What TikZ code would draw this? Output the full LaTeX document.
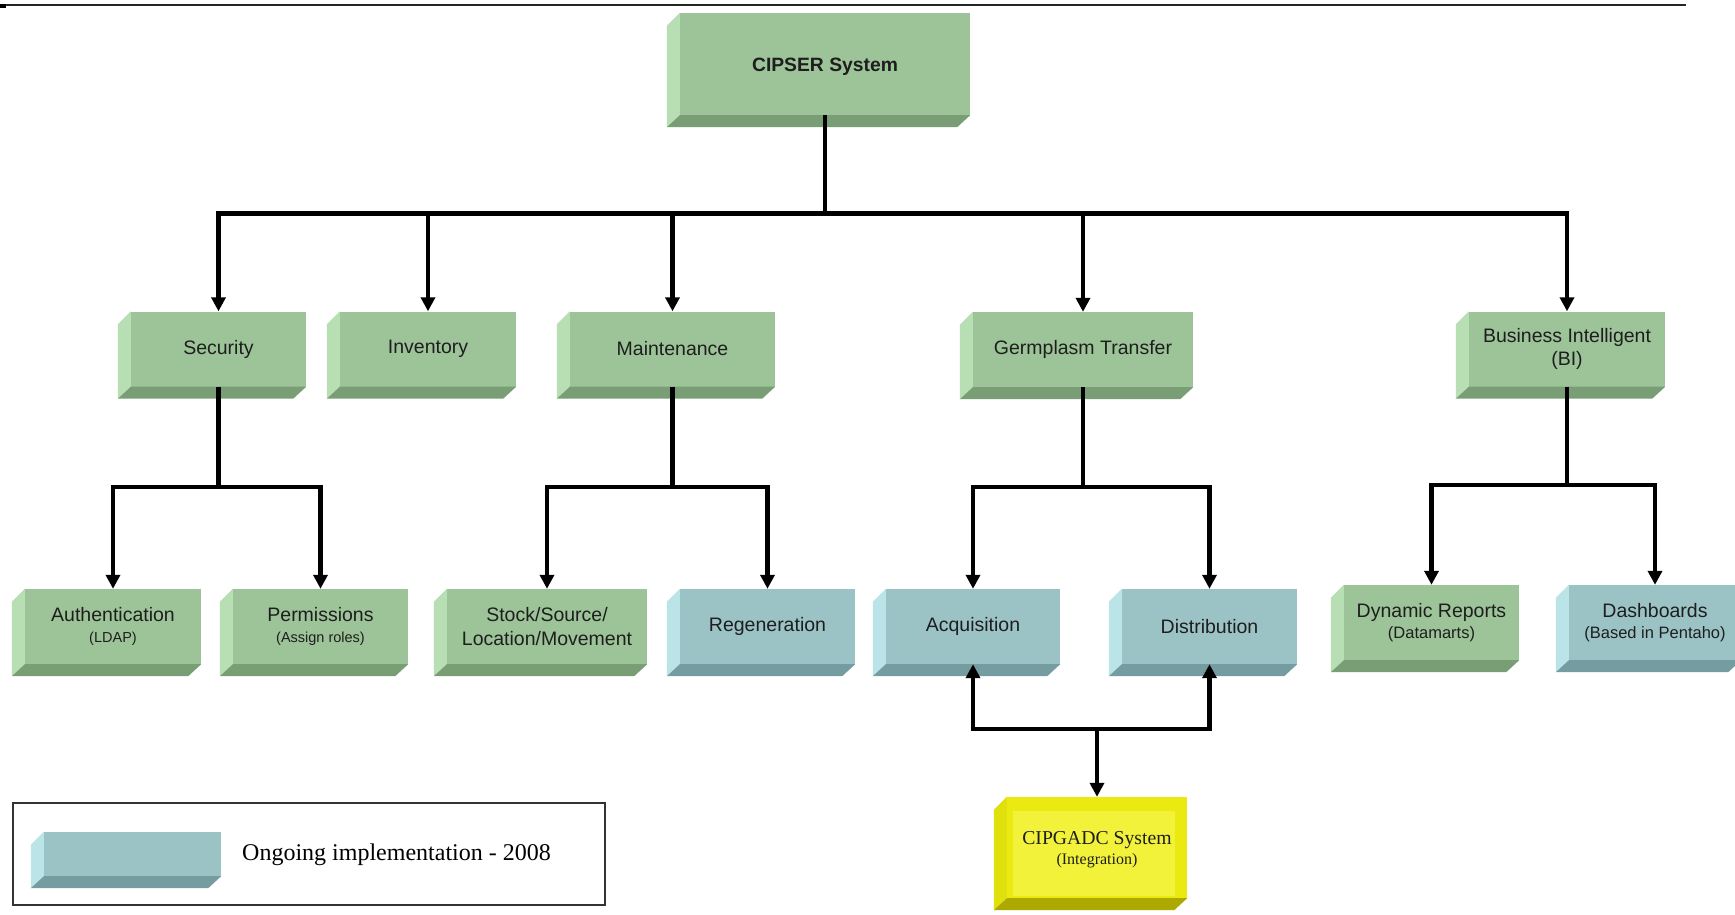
\documentclass[tikz,border=0pt]{standalone}
\usepackage{fontspec}
\usetikzlibrary{arrows.meta}
\newfontfamily\boxsans{Liberation Sans}
\newfontfamily\boxserif{Liberation Serif}

% face colours of the extruded boxes
\definecolor{gfront}{RGB}{157,196,153}
\definecolor{gside}{RGB}{184,222,179}
\definecolor{gbot}{RGB}{121,158,118}
\definecolor{bfront}{RGB}{155,195,197}
\definecolor{bside}{RGB}{186,228,232}
\definecolor{bbot}{RGB}{117,156,160}
\definecolor{yfront}{RGB}{234,234,16}
\definecolor{yinner}{RGB}{242,242,58}
\definecolor{yside}{RGB}{224,224,12}
\definecolor{ybot}{RGB}{172,170,0}
\definecolor{inkgray}{RGB}{30,30,30}

\tikzset{
  blk/.style={rectangle, inner sep=0pt, minimum height=75pt, text=inkgray,
              font=\boxsans\fontsize{19.5}{23.5}\selectfont, align=center},
  gbox/.style={blk, fill=gfront},
  bbox/.style={blk, fill=bfront},
  ybox/.style={blk, fill=yfront, font=\boxserif\fontsize{19.7}{23}\selectfont},
  link/.style={line width=4.2pt, black},
  arr/.style={link, -{Triangle[width=14pt,length=14pt]}},
}

% left and bottom faces of a box, drawn from the node's corners
\newcommand\sidefaces[3]{%
  \fill[#2] (#1.north west) -- ++(-13,13) -- ([shift={(-13,12)}]#1.south west) -- (#1.south west) -- cycle;
  \fill[#3] (#1.south west) -- ++(-13,12) -- ([shift={(-13,12)}]#1.south east) -- (#1.south east) -- cycle;
}
\newcommand\subl[1]{{\fontsize{14.5}{17}\selectfont #1}}
\newcommand\subm[1]{{\fontsize{16.5}{19}\selectfont #1}}

\begin{document}
\begin{tikzpicture}[x=1pt,y=-1pt]
  \useasboundingbox (0,0) rectangle (1735,914);
  \fill[white] (0,0) rectangle (1735,914);
  \clip (0,0) rectangle (1735,914);

  % header rule
  \draw[line width=2pt, black!85] (0,5) -- (1686,5);
  \fill[black] (0,4) rectangle (6,8);

  % root
  \node[gbox, minimum width=290, minimum height=102] (cipser) at (825,64) {};
  \node[blk, font=\boxsans\bfseries\fontsize{19.3}{23}\selectfont] (cipsertext)
       at ([yshift=-3pt]cipser.center) {CIPSER System};

  % modules
  \node[gbox, minimum width=175] (sec)   at (218.5,349) {Security};
  \node[gbox, minimum width=176] (inv)   at (428,349)   {Inventory};
  \node[gbox, minimum width=205] (maint) at (672.5,349) {Maintenance};
  \node[gbox, minimum width=220] (germ)  at (1083,349.5){Germplasm Transfer};
  \node[gbox, minimum width=196] (bi)    at (1567,349)  {Business Intelligent\\(BI)};

  % sub-modules
  \node[gbox, minimum width=176] (auth)  at (113,626.5)   {Authentication\\[-3pt]\subl{(LDAP)}};
  \node[gbox, minimum width=175] (perm)  at (320.5,626.5) {Permissions\\[-3pt]\subl{(Assign roles)}};
  \node[gbox, minimum width=200] (stock) at (547,626.5)   {Stock/Source/\\Location/Movement};
  \node[bbox, minimum width=175] (regen) at (767.5,626.5) {Regeneration};
  \node[bbox, minimum width=174] (acq)   at (973,626.5)   {Acquisition};
  \node[bbox, minimum width=175] (dist)  at (1209.5,626.5){Distribution};
  \node[gbox, minimum width=175] (dyn)   at (1431.5,622.5){Dynamic Reports\\[-3pt]\subm{(Datamarts)}};
  \node[bbox, minimum width=172] (dash)  at (1655,622.5)  {Dashboards\\[-3pt]\subm{(Based in Pentaho)}};

  % external system
  \node[ybox, minimum width=180, minimum height=101] (gadc) at (1097,847.5) {};
  \fill[yinner] ([shift={(6,14)}]gadc.north west) rectangle ([shift={(-12,-2)}]gadc.south east);
  \node[ybox, fill=none] (gadctext) at ([yshift=-2pt]gadc.center)
       {CIPGADC System\\[-3pt]{\fontsize{16}{19}\selectfont (Integration)}};

  % extruded faces
  \sidefaces{cipser}{gside}{gbot}
  \sidefaces{sec}{gside}{gbot}
  \sidefaces{inv}{gside}{gbot}
  \sidefaces{maint}{gside}{gbot}
  \sidefaces{germ}{gside}{gbot}
  \sidefaces{bi}{gside}{gbot}
  \sidefaces{auth}{gside}{gbot}
  \sidefaces{perm}{gside}{gbot}
  \sidefaces{stock}{gside}{gbot}
  \sidefaces{regen}{bside}{bbot}
  \sidefaces{acq}{bside}{bbot}
  \sidefaces{dist}{bside}{bbot}
  \sidefaces{dyn}{gside}{gbot}
  \sidefaces{dash}{bside}{bbot}
  \sidefaces{gadc}{yside}{ybot}

  % junction points
  \coordinate (bus)   at (825,213.5);
  \coordinate (secj)  at (218.5,487);
  \coordinate (maintj)at (672.5,487);
  \coordinate (germj) at (1083,487);
  \coordinate (bij)   at (1567,485);
  \coordinate (gadcj) at (1097,729);

  % root to modules
  \draw[link] (cipser.south) -- (bus);
  \draw[arr] (bus) -| (sec.north);
  \draw[arr] (bus) -| (inv.north);
  \draw[arr] (bus) -| (maint.north);
  \draw[arr] (bus) -| (germ.north);
  \draw[arr] (bus) -| (bi.north);

  % modules to sub-modules
  \draw[link] (sec.south) -- (secj);
  \draw[arr] (secj) -| (auth.north);
  \draw[arr] (secj) -| (perm.north);
  \draw[link] (maint.south) -- (maintj);
  \draw[arr] (maintj) -| (stock.north);
  \draw[arr] (maintj) -| (regen.north);
  \draw[link] (germ.south) -- (germj);
  \draw[arr] (germj) -| (acq.north);
  \draw[arr] (germj) -| (dist.north);
  \draw[link] (bi.south) -- (bij);
  \draw[arr] (bij) -| (dyn.north);
  \draw[arr] (bij) -| (dash.north);

  % exchange with CIPGADC
  \draw[arr] (gadcj) -| (acq.south);
  \draw[arr] (gadcj) -| (dist.south);
  \draw[arr] (gadcj) -- (gadc.north);

  % legend
  \node[draw=black!80, line width=1.4pt, rectangle, inner sep=0pt,
        minimum width=592, minimum height=102] (legend) at (309,854) {};
  \node[bbox, minimum width=177, minimum height=44] (swatch) at (132.5,854) {};
  \sidefaces{swatch}{bside}{bbot}
  \node[anchor=west, inner sep=0pt, text=black, font=\boxserif\fontsize{24}{28}\selectfont]
       (legendtext) at (242,855) {Ongoing implementation - 2008};
\end{tikzpicture}
\end{document}
